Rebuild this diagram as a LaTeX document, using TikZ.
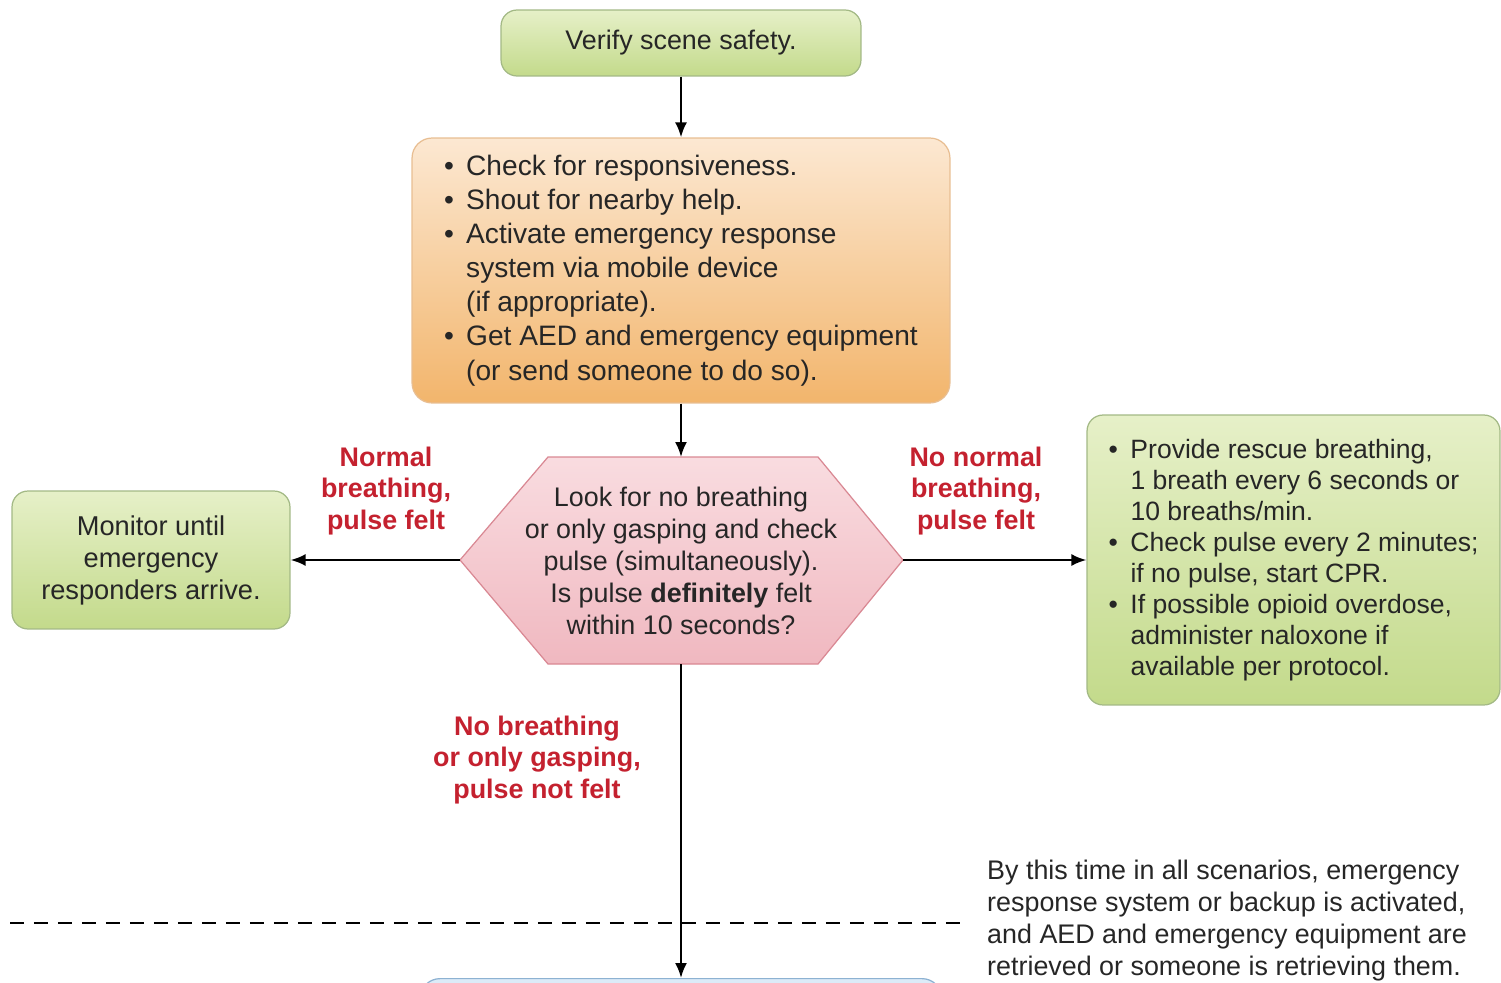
\documentclass[tikz,border=0pt]{standalone}
\usepackage{fontspec}
\setmainfont{Liberation Sans}
\usetikzlibrary{arrows.meta}
\definecolor{greentop}{HTML}{E6F0C8}
\definecolor{greenbot}{HTML}{C3DA8B}
\definecolor{greenedge}{HTML}{A3B985}
\definecolor{orangetop}{HTML}{FCE8D2}
\definecolor{orangebot}{HTML}{F2B56C}
\definecolor{orangeedge}{HTML}{E8BE92}
\definecolor{pinktop}{HTML}{F9DCE0}
\definecolor{pinkbot}{HTML}{F0B8C0}
\definecolor{pinkedge}{HTML}{D98893}
\definecolor{bluefill}{HTML}{DCEBF8}
\definecolor{blueedge}{HTML}{8DB2D2}
\definecolor{labelred}{HTML}{C4212F}
\definecolor{inkgray}{HTML}{262626}
\newcommand{\itm}{\makebox[0.44cm][l]{\textbullet}}
\newcommand{\itmpad}{\hspace*{0.44cm}}

\begin{document}
\begin{tikzpicture}[x=0.02cm, y=-0.02cm, every node/.style={text=inkgray, font=\fontsize{15.3}{18.2}\selectfont}]
\tikzset{
        greenbox/.style={draw=greenedge, line width=0.7pt, rounded corners=0.32cm, top color=greentop, bottom color=greenbot, align=center},
        orangebox/.style={draw=orangeedge, line width=0.7pt, rounded corners=0.4cm, top color=orangetop, bottom color=orangebot, align=left, font=\fontsize{16}{19.4}\selectfont},
        answer/.style={text=labelred, align=center, font=\bfseries\fontsize{15.3}{17.8}\selectfont},
        arr/.style={-{Latex[length=0.3cm,width=0.24cm]}, line width=0.045cm, black},
    }
  \useasboundingbox (0,0) rectangle (1501,983);
  \clip (0,0) rectangle (1501,983);

  \node[greenbox, minimum width=7.2cm, minimum height=1.32cm] (safety) at (681,43) {Verify scene safety.};
  \node[orangebox, minimum width=10.76cm, minimum height=5.3cm] (actions) at (681,270.5)
    {\itm Check for responsiveness.\\
     \itm Shout for nearby help.\\
     \itm Activate emergency response\\
     \itmpad system via mobile device\\
     \itmpad (if appropriate).\\
     \itm Get AED and emergency equipment\\
     \itmpad (or send someone to do so).};

  \coordinate (hexW) at (460,560);
  \coordinate (hexE) at (903,560);
  \coordinate (hexN) at (681,457);
  \coordinate (hexS) at (681,664);
  \path[draw=pinkedge, line width=0.7pt, top color=pinktop, bottom color=pinkbot]
    (hexW) -- (548,457) -- (818,457) -- (hexE) -- (818,664) -- (548,664) -- cycle;
  \node[align=center] (look) at (681,561)
    {Look for no breathing\\
     or only gasping and check\\
     pulse (simultaneously).\\
     Is pulse \textbf{definitely} felt\\
     within 10 seconds?};

  \node[greenbox, minimum width=5.56cm, minimum height=2.76cm, font=\fontsize{15.5}{18.2}\selectfont] (monitor) at (151,560)
    {Monitor until\\ emergency\\ responders arrive.};
  \node[greenbox, align=left, minimum width=8.26cm, minimum height=5.8cm, font=\fontsize{15.1}{17.7}\selectfont] (breathe) at (1293.5,560)
    {\itm Provide rescue breathing,\\
     \itmpad 1 breath every 6 seconds or\\
     \itmpad 10 breaths/min.\\
     \itm Check pulse every 2 minutes;\\
     \itmpad if no pulse, start CPR.\\
     \itm If possible opioid overdose,\\
     \itmpad administer naloxone if\\
     \itmpad available per protocol.};

  \node[draw=blueedge, line width=0.7pt, fill=bluefill, rounded corners=0.4cm, minimum width=10.44cm, minimum height=2cm, anchor=north] (next) at (681,978) {};

  \node[answer] (normal) at (386,491) {Normal\\ breathing,\\ pulse felt};
  \node[answer] (nonormal) at (976,491) {No normal\\ breathing,\\ pulse felt};
  \node[answer] (nobreath) at (537,760) {No breathing\\ or only gasping,\\ pulse not felt};

  \draw[arr] (safety) -- (actions);
  \draw[arr] (actions) -- (hexN);
  \draw[arr] (hexW) -- (monitor);
  \draw[arr] (hexE) -- (breathe);
  \draw[arr] (hexS) -- (next);

  \coordinate (cutL) at (10,923);
  \coordinate (cutR) at (968,923);
  \draw[line width=0.05cm, dash pattern=on 0.28cm off 0.2cm] (cutL) -- (cutR);
  \node[align=left, anchor=west] (note) at (981,921)
    {By this time in all scenarios, emergency\\
     response system or backup is activated,\\
     and AED and emergency equipment are\\
     retrieved or someone is retrieving them.};
\end{tikzpicture}
\end{document}
